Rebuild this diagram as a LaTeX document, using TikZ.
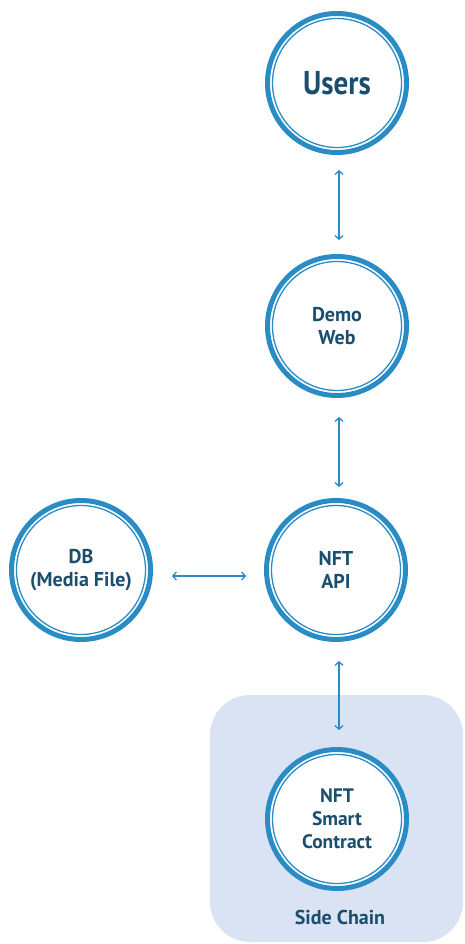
\documentclass[tikz,border=0pt]{standalone}
\usepackage{fontspec}
\setmainfont{PT Sans}
\usetikzlibrary{arrows.meta}
\definecolor{ringblue}{HTML}{2A8CC4}
\definecolor{textblue}{HTML}{1A4D6E}
\definecolor{chainfill}{HTML}{DAE3F3}
\tikzset{
  ringnode/.style={circle, draw=ringblue, line width=5pt, fill=white,
    minimum size=139pt, inner sep=0pt, align=center, text=textblue,
    font=\bfseries\fontsize{20}{23}\selectfont,
    path picture={\draw[ringblue, line width=1.3pt]
      (path picture bounding box.center) circle (64.5pt);}},
  link/.style={draw=ringblue, line width=1.3pt,
    {Straight Barb[length=3.5pt,width=8pt]}-{Straight Barb[length=3.5pt,width=8pt]}},
  chainbox/.style={fill=chainfill, rounded corners=40pt, draw=none}
}
\begin{document}
\begin{tikzpicture}[x=1pt,y=-1pt]
  \useasboundingbox (0,0) rectangle (464,944);
  \fill[chainbox] (210,695) rectangle (463,942);
  \node[ringnode] (users) at (337,83) {\fontsize{33}{36}\selectfont\scalebox{0.88}[1]{Users}};
  \node[ringnode] (demo) at (337,326) {Demo\\Web};
  \node[ringnode] (api) at (336,570) {NFT\\API};
  \node[ringnode] (db) at (81,570) {DB\\(Media File)};
  \node[ringnode, font=\bfseries\fontsize{19.5}{23}\selectfont] (contract) at (337,819) {NFT\\Smart\\Contract};
  \node[text=textblue, font=\bfseries\fontsize{20}{22}\selectfont] (side) at (340,917) {Side Chain};
  \draw[link, shorten <=15pt, shorten >=14pt] ([xshift=2pt]users.south) -- ([xshift=2pt]demo.north);
  \draw[link, shorten <=19pt, shorten >=11pt] ([xshift=2pt]demo.south) -- ([xshift=3pt]api.north);
  \draw[link, shorten <=19pt, shorten >=17pt] ([xshift=3pt]api.south) -- ([xshift=2pt]contract.north);
  \draw[link, shorten <=19pt, shorten >=18pt] ([yshift=-6pt]db.east) -- ([yshift=-6pt]api.west);
\end{tikzpicture}
\end{document}
